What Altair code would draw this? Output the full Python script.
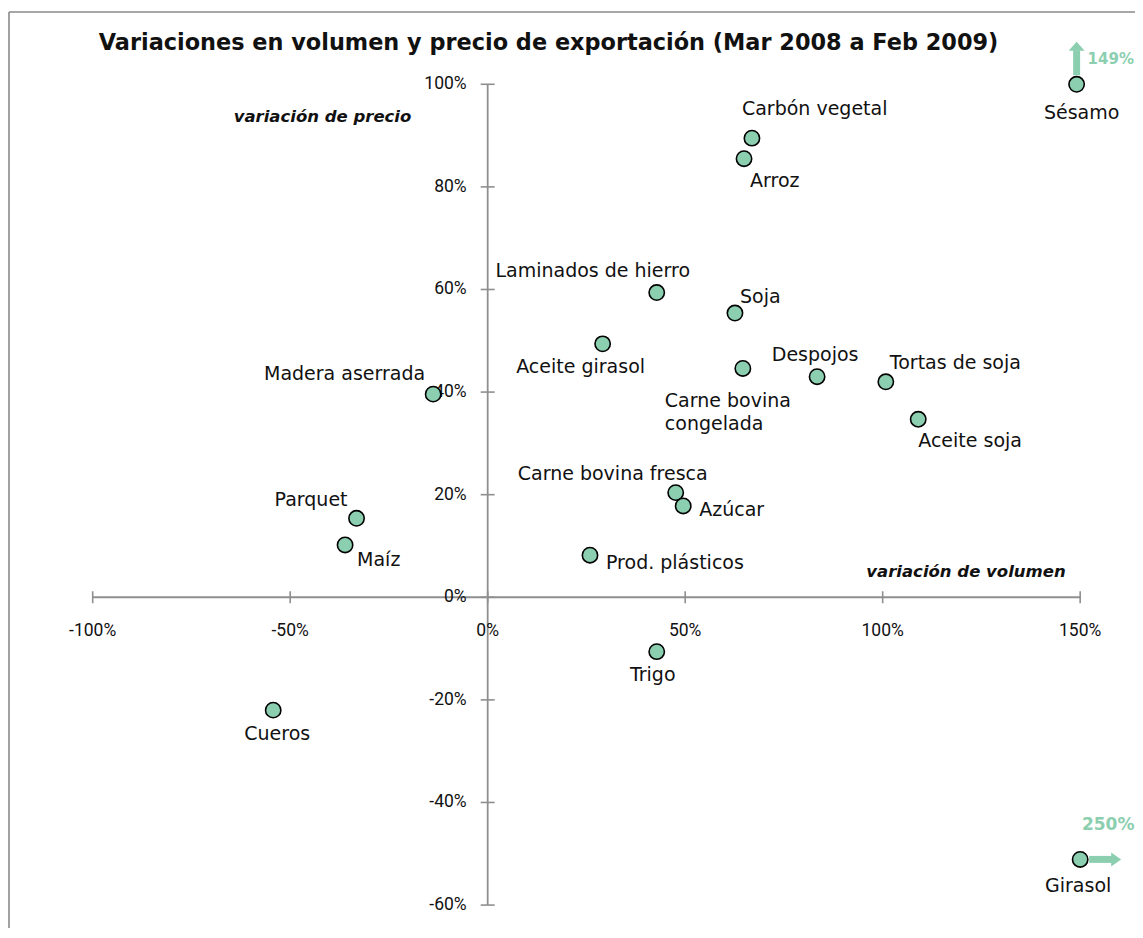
import altair as alt
import pandas as pd

# ---------------- data ----------------
products = ["Sésamo", "Carbón vegetal", "Arroz", "Laminados de hierro", "Soja",
            "Aceite girasol", "Carne bovina congelada", "Despojos", "Tortas de soja",
            "Aceite soja", "Madera aserrada", "Carne bovina fresca", "Azúcar", "Parquet",
            "Maíz", "Prod. plásticos", "Trigo", "Cueros", "Girasol"]
vol_change = [149.1, 66.9, 64.9, 42.8, 62.6, 29.1, 64.6, 83.4, 100.8, 109.0,
              -13.8, 47.6, 49.5, -33.2, -36.1, 25.9, 42.8, -54.3, 250.0]
price_change = [149.0, 89.5, 85.5, 59.4, 55.4, 49.4, 44.6, 43.0, 42.0, 34.7,
                39.6, 20.4, 17.8, 15.4, 10.2, 8.2, -10.6, -22.0, -51.1]
labels = ["Sésamo", "Carbón vegetal", "Arroz", "Laminados de hierro", "Soja",
          "Aceite girasol", "Carne bovina\ncongelada", "Despojos", "Tortas de soja",
          "Aceite soja", "Madera aserrada", "Carne bovina  fresca", "Azúcar", "Parquet",
          "Maíz", "Prod. plásticos", "Trigo", "Cueros", "Girasol"]
x_ticks = [-100, -50, 0, 50, 100, 150]
y_ticks = [-60, -40, -20, 0, 20, 40, 60, 80, 100]

TITLE = "Variaciones en volumen y precio de exportación (Mar 2008 a Feb 2009)"
X_TITLE = "variación de volumen"
Y_TITLE = "variación de precio"

# ---------------- layout / style ----------------
W, H = 1127, 920
X_MIN, X_MAX = -121.44, 163.88
Y_MIN, Y_MAX = -64.47, 114.87
GREEN = "#8ccfb0"
AXIS_C = "#8f8f8f"
FONT = "DejaVu Sans"
TICK_FONT = "Roboto"

# label placement: (align, dx, dy) relative to the marker
LABEL_POS = {
    "Sésamo": ("center", 5, 29),
    "Carbón vegetal": ("left", -10, -29),
    "Arroz": ("left", 6, 22),
    "Laminados de hierro": ("center", -64, -22),
    "Soja": ("left", 5, -16),
    "Aceite girasol": ("center", -22, 23),
    "Carne bovina congelada": ("left", -78, 33),
    "Despojos": ("center", -2, -22),
    "Tortas de soja": ("left", 4, -19),
    "Aceite soja": ("left", 0, 22),
    "Madera aserrada": ("right", -8, -20),
    "Carne bovina fresca": ("center", -63, -19),
    "Azúcar": ("left", 16, 4),
    "Parquet": ("right", -9, -18),
    "Maíz": ("left", 12, 15),
    "Prod. plásticos": ("left", 16, 8),
    "Trigo": ("center", -4, 23),
    "Cueros": ("center", 4, 24),
    "Girasol": ("center", -2, 27),
}

X_CAP = max(x_ticks)
Y_CAP = max(y_ticks)

df = pd.DataFrame({"product": products, "vol": vol_change, "price": price_change,
                   "label": labels})
df["xd"] = df["vol"].clip(upper=X_CAP)
df["yd"] = df["price"].clip(upper=Y_CAP)

xs = alt.Scale(domain=[X_MIN, X_MAX], nice=False, zero=False)
ys = alt.Scale(domain=[Y_MIN, Y_MAX], nice=False, zero=False)


def X(f):
    return alt.X(f, type="quantitative", scale=xs, axis=None)


def Y(f):
    return alt.Y(f, type="quantitative", scale=ys, axis=None)


layers = []

# frame (left and top edges visible)
frame = pd.DataFrame({"a": [0]})
layers.append(alt.Chart(frame).mark_rule(color="#8a8a8a", strokeWidth=1.6).encode(
    x=alt.value(1), y=alt.value(4), y2=alt.value(H)))
layers.append(alt.Chart(frame).mark_rule(color="#8a8a8a", strokeWidth=1.6).encode(
    x=alt.value(1), x2=alt.value(W), y=alt.value(4)))

# axis lines
axes = pd.DataFrame({"x": [min(x_ticks), 0], "x2": [max(x_ticks), 0],
                     "y": [0, min(y_ticks)], "y2": [0, max(y_ticks)]})
layers.append(alt.Chart(axes).mark_rule(color=AXIS_C, strokeWidth=1.8).encode(
    x=X("x"), x2="x2:Q", y=Y("y"), y2="y2:Q"))

# ticks
xt = pd.DataFrame({"v": x_ticks, "z": [0] * len(x_ticks)})
yt = pd.DataFrame({"v": y_ticks, "z": [0] * len(y_ticks)})
layers.append(alt.Chart(xt).mark_point(shape="stroke", size=144, angle=90, color=AXIS_C,
                                       strokeWidth=1.6, opacity=1).encode(
    x=X("v"), y=Y("z")))
layers.append(alt.Chart(yt).mark_point(shape="stroke", size=196, color=AXIS_C,
                                       strokeWidth=1.6, opacity=1).encode(
    x=X("z"), y=Y("v")))

# tick labels
layers.append(alt.Chart(xt).transform_calculate(t="datum.v + '%'").mark_text(
    font=TICK_FONT, fontSize=17.5, color="#111", align="center", baseline="middle",
    dy=34).encode(x=X("v"), y=Y("z"), text="t:N"))
layers.append(alt.Chart(yt).transform_calculate(t="datum.v + '%'").mark_text(
    font=TICK_FONT, fontSize=17.5, color="#111", align="right", baseline="middle",
    dx=-21).encode(x=X("z"), y=Y("v"), text="t:N"))

# titles
tdf = pd.DataFrame({"t": [TITLE], "xt": [X_TITLE], "yt": [Y_TITLE]})
layers.append(alt.Chart(tdf).mark_text(font=FONT, fontSize=22.4, fontWeight="bold",
                                       color="#111", align="center", baseline="middle").encode(
    x=alt.value(540.5), y=alt.value(35), text="t:N"))
layers.append(alt.Chart(tdf).mark_text(font=FONT, fontSize=16.5, fontWeight="bold",
                                       fontStyle="italic", color="#111", align="center",
                                       baseline="middle").encode(
    x=alt.value(958), y=alt.value(564), text="xt:N"))
layers.append(alt.Chart(tdf).mark_text(font=FONT, fontSize=16.5, fontWeight="bold",
                                       fontStyle="italic", color="#111", align="center",
                                       baseline="middle").encode(
    x=alt.value(314.5), y=alt.value(109), text="yt:N"))

# arrows for values beyond the axis range
up = df[df["price"] > Y_CAP].copy()
right = df[df["vol"] > X_CAP].copy()
up["t"] = up["price"].round(0).astype(int).astype(str) + "%"
right["t"] = right["vol"].round(0).astype(int).astype(str) + "%"

layers.append(alt.Chart(up).mark_rule(color=GREEN, strokeWidth=7, yOffset=-9,
                                      y2Offset=-34).encode(
    x=X("xd"), y=Y("yd"), y2="yd:Q"))
layers.append(alt.Chart(up).mark_point(shape="M-1,0.56L0,-0.56L1,0.56Z", filled=True,
                                       color=GREEN, size=256, opacity=1, yOffset=-38).encode(
    x=X("xd"), y=Y("yd")))
layers.append(alt.Chart(up).mark_text(font=FONT, fontSize=15, fontWeight="bold",
                                      color=GREEN, align="left", baseline="middle",
                                      dx=11, dy=-25).encode(
    x=X("xd"), y=Y("yd"), text="t:N"))

layers.append(alt.Chart(right).mark_rule(color=GREEN, strokeWidth=7, xOffset=9,
                                         x2Offset=32).encode(
    x=X("xd"), x2="xd:Q", y=Y("yd")))
layers.append(alt.Chart(right).mark_point(shape="M-0.71,-1L0.71,0L-0.71,1Z", filled=True,
                                          color=GREEN, size=196, opacity=1, xOffset=36).encode(
    x=X("xd"), y=Y("yd")))
layers.append(alt.Chart(right).mark_text(font=FONT, fontSize=17, fontWeight="bold",
                                         color=GREEN, align="center", baseline="middle",
                                         dx=28, dy=-34).encode(
    x=X("xd"), y=Y("yd"), text="t:N"))

# points
layers.append(alt.Chart(df).mark_point(shape="circle", filled=True, fill=GREEN,
                                       stroke="#000", strokeWidth=1.6, size=235,
                                       opacity=1, fillOpacity=1, strokeOpacity=1).encode(
    x=X("xd"), y=Y("yd")))

# point labels
for name, (al, dx, dy) in LABEL_POS.items():
    layers.append(alt.Chart(df).transform_filter(alt.datum.product == name).mark_text(
        font=FONT, fontSize=19, color="#111", align=al, baseline="middle", dx=dx, dy=dy,
        lineBreak="\n", lineHeight=23).encode(x=X("xd"), y=Y("yd"), text="label:N"))

chart = alt.layer(*layers).properties(
    width=W, height=H, padding=0, background="white",
    autosize=alt.AutoSizeParams(type="none")
).configure_view(stroke=None)

chart.save("out.html", embed_options={"renderer": "svg", "actions": False})
